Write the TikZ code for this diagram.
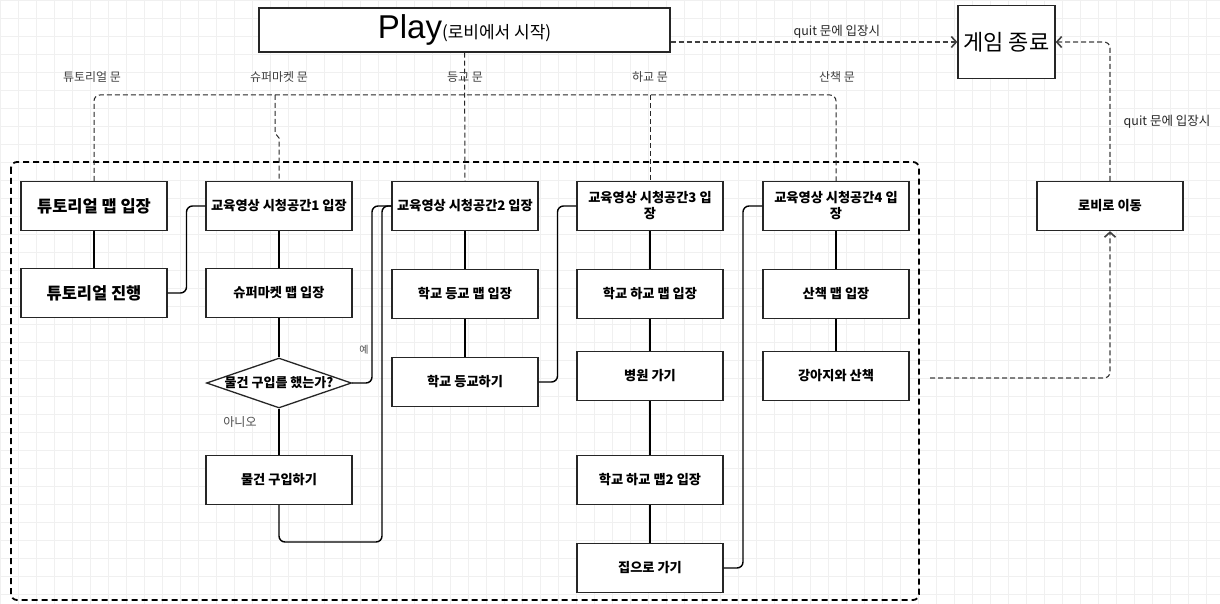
\documentclass[tikz,border=0pt]{standalone}
\usepackage{fontspec}
\setmainfont{Noto Sans CJK KR}
\newfontfamily\arialf{Liberation Sans}
\usetikzlibrary{shapes.geometric,arrows.meta,calc}
\tikzset{
  box/.style={draw=black!85, line width=1.3pt, minimum width=146pt, minimum height=49pt,
    font=\bfseries\fontsize{13.2}{16}\selectfont, align=center, inner sep=2pt, fill=white},
  bigbox/.style={box, font=\bfseries\fontsize{16.5}{19}\selectfont},
  conn/.style={draw=black, line width=1.4pt, rounded corners=6pt},
  tdash/.style={draw=black!85, line width=1pt, dash pattern=on 5pt off 3pt},
  darrow/.style={draw=black!75, line width=1.2pt, dash pattern=on 5pt off 3pt, rounded corners=6pt,
    -{Straight Barb[length=5pt,width=11pt,line width=1.6pt]}},
  doorlbl/.style={font=\fontsize{12}{14}\selectfont, text=black!75},
  quitlbl/.style={font=\fontsize{12.5}{14}\selectfont, text=black!85},
}
\begin{document}
\begin{tikzpicture}[x=1pt,y=-1pt]
\useasboundingbox (0,0) rectangle (1220,604);
\fill[white] (0,0) rectangle (1220,604);
\draw[black!6, line width=0.4pt, step=18pt] (0,0) grid (1220,604);

% container
\draw[black, line width=1.8pt, dash pattern=on 6pt off 4pt, rounded corners=6pt]
  (11,162) rectangle (919,600);

% top nodes
\node[draw=black!85, line width=1.2pt, fill=white, minimum width=411pt, minimum height=44pt, inner sep=0pt]
  (play) at (464.5,30) {{\arialf\fontsize{33}{33}\selectfont Play}{\fontsize{17}{17}\selectfont(로비에서 시작)}};
\node[draw=black!85, line width=1.3pt, fill=white, minimum width=97pt, minimum height=73pt,
  font=\fontsize{22}{26}\selectfont] (end) at (1006.5,42) {게임 종료};

% column boxes
\node[bigbox] (tut1) at (94,206) {튜토리얼 맵 입장};
\node[bigbox] (tut2) at (94,293) {튜토리얼 진행};

\node[box] (b1) at (279,206) {교육영상 시청공간1 입장};
\node[box] (s1) at (279,293) {슈퍼마켓 맵 입장};
\node[draw=black!85, line width=1.3pt, fill=white, diamond, minimum width=145pt, minimum height=50pt, inner sep=0pt,
  label={[font=\bfseries\fontsize{13}{15}\selectfont]center:물건 구입를 했는가?}] (dia) at (279,383) {};
\node[box] (buy) at (279,480) {물건 구입하기};

\node[box] (b2) at (465,206) {교육영상 시청공간2 입장};
\node[box] (s2) at (465,294) {학교 등교 맵 입장};
\node[box] (s2b) at (465,382) {학교 등교하기};

\node[box] (b3) at (650,206) {교육영상 시청공간3 입\\장};
\node[box] (h1) at (650,294) {학교 하교 맵 입장};
\node[box] (h2) at (650,376) {병원 가기};
\node[box] (h3) at (650,480) {학교 하교 맵2 입장};
\node[box] (h4) at (650,568) {집으로 가기};

\node[box] (b4) at (836,206) {교육영상 시청공간4 입\\장};
\node[box] (w1) at (836,294) {산책 맵 입장};
\node[box] (w2) at (836,376) {강아지와 산책};

\node[box] (lobby) at (1110,206) {로비로 이동};

% solid connectors
\draw[conn] (tut1) -- (tut2);
\draw[conn] (tut2.east) -| ($(tut2.east)!0.5!(b1.west)$) |- (b1.west);
\draw[conn] (b1) -- (s1);
\draw[conn] (s1) -- (dia);
\draw[conn] (dia) -- (buy);
\coordinate (yesx) at (372,383);
\draw[conn] (dia.east) -- (yesx) |- (b2.west);
\coordinate (nox) at (382,542);
\draw[conn] (buy.south) |- (nox) |- (b2.west);
\draw[conn] (b2) -- (s2);
\draw[conn] (s2) -- (s2b);
\draw[conn] (s2b.east) -| ($(s2b.east)!0.5!(b3.west)$) |- (b3.west);
\draw[conn] (b3) -- (h1);
\draw[conn] (h1) -- (h2);
\draw[conn] (h2) -- (h3);
\draw[conn] (h3) -- (h4);
\draw[conn] (h4.east) -| ($(h4.east)!0.5!(b4.west)$) |- (b4.west);
\draw[conn] (b4) -- (w1);
\draw[conn] (w1) -- (w2);

% door connectors (dashed)
\coordinate (topbar) at (0,95);
\draw[tdash, rounded corners=6pt] (tut1.north) -- (tut1.north |- topbar) -- (b4.north |- topbar) -- (b4.north);
\coordinate (smtop) at (275,95);
\draw[tdash] (smtop) -- (275,133) -- (279,138) -- (b1.north);
\draw[tdash] (b3.north |- topbar) -- (b3.north);
\draw[tdash] (play.south) -- (b2.north);

\node[doorlbl] (l1) at (92,77) {튜토리얼 문};
\node[doorlbl] (l2) at (279,77) {슈퍼마켓 문};
\node[doorlbl] (l3) at (465,77) {등교 문};
\node[doorlbl] (l4) at (650,77) {하교 문};
\node[doorlbl] (l5) at (837,77) {산책 문};

\node[font=\fontsize{10}{11}\selectfont, text=black!70] (yes) at (364,350) {예};
\node[font=\fontsize{12}{13}\selectfont, text=black!70] (no) at (240,422) {아니오};

% dashed arrows
\draw[darrow] (play.east |- end.west) -- (end.west)
  node[pos=0.58, above=0pt, quitlbl] (q1) {quit 문에 입장시};
\coordinate (wstart) at (930,378);
\draw[darrow] (wstart) -| (lobby.south);
\draw[darrow] (lobby.north) |- (end.east);
\node[quitlbl] (q2) at (1167,122) {quit 문에 입장시};
\end{tikzpicture}
\end{document}
